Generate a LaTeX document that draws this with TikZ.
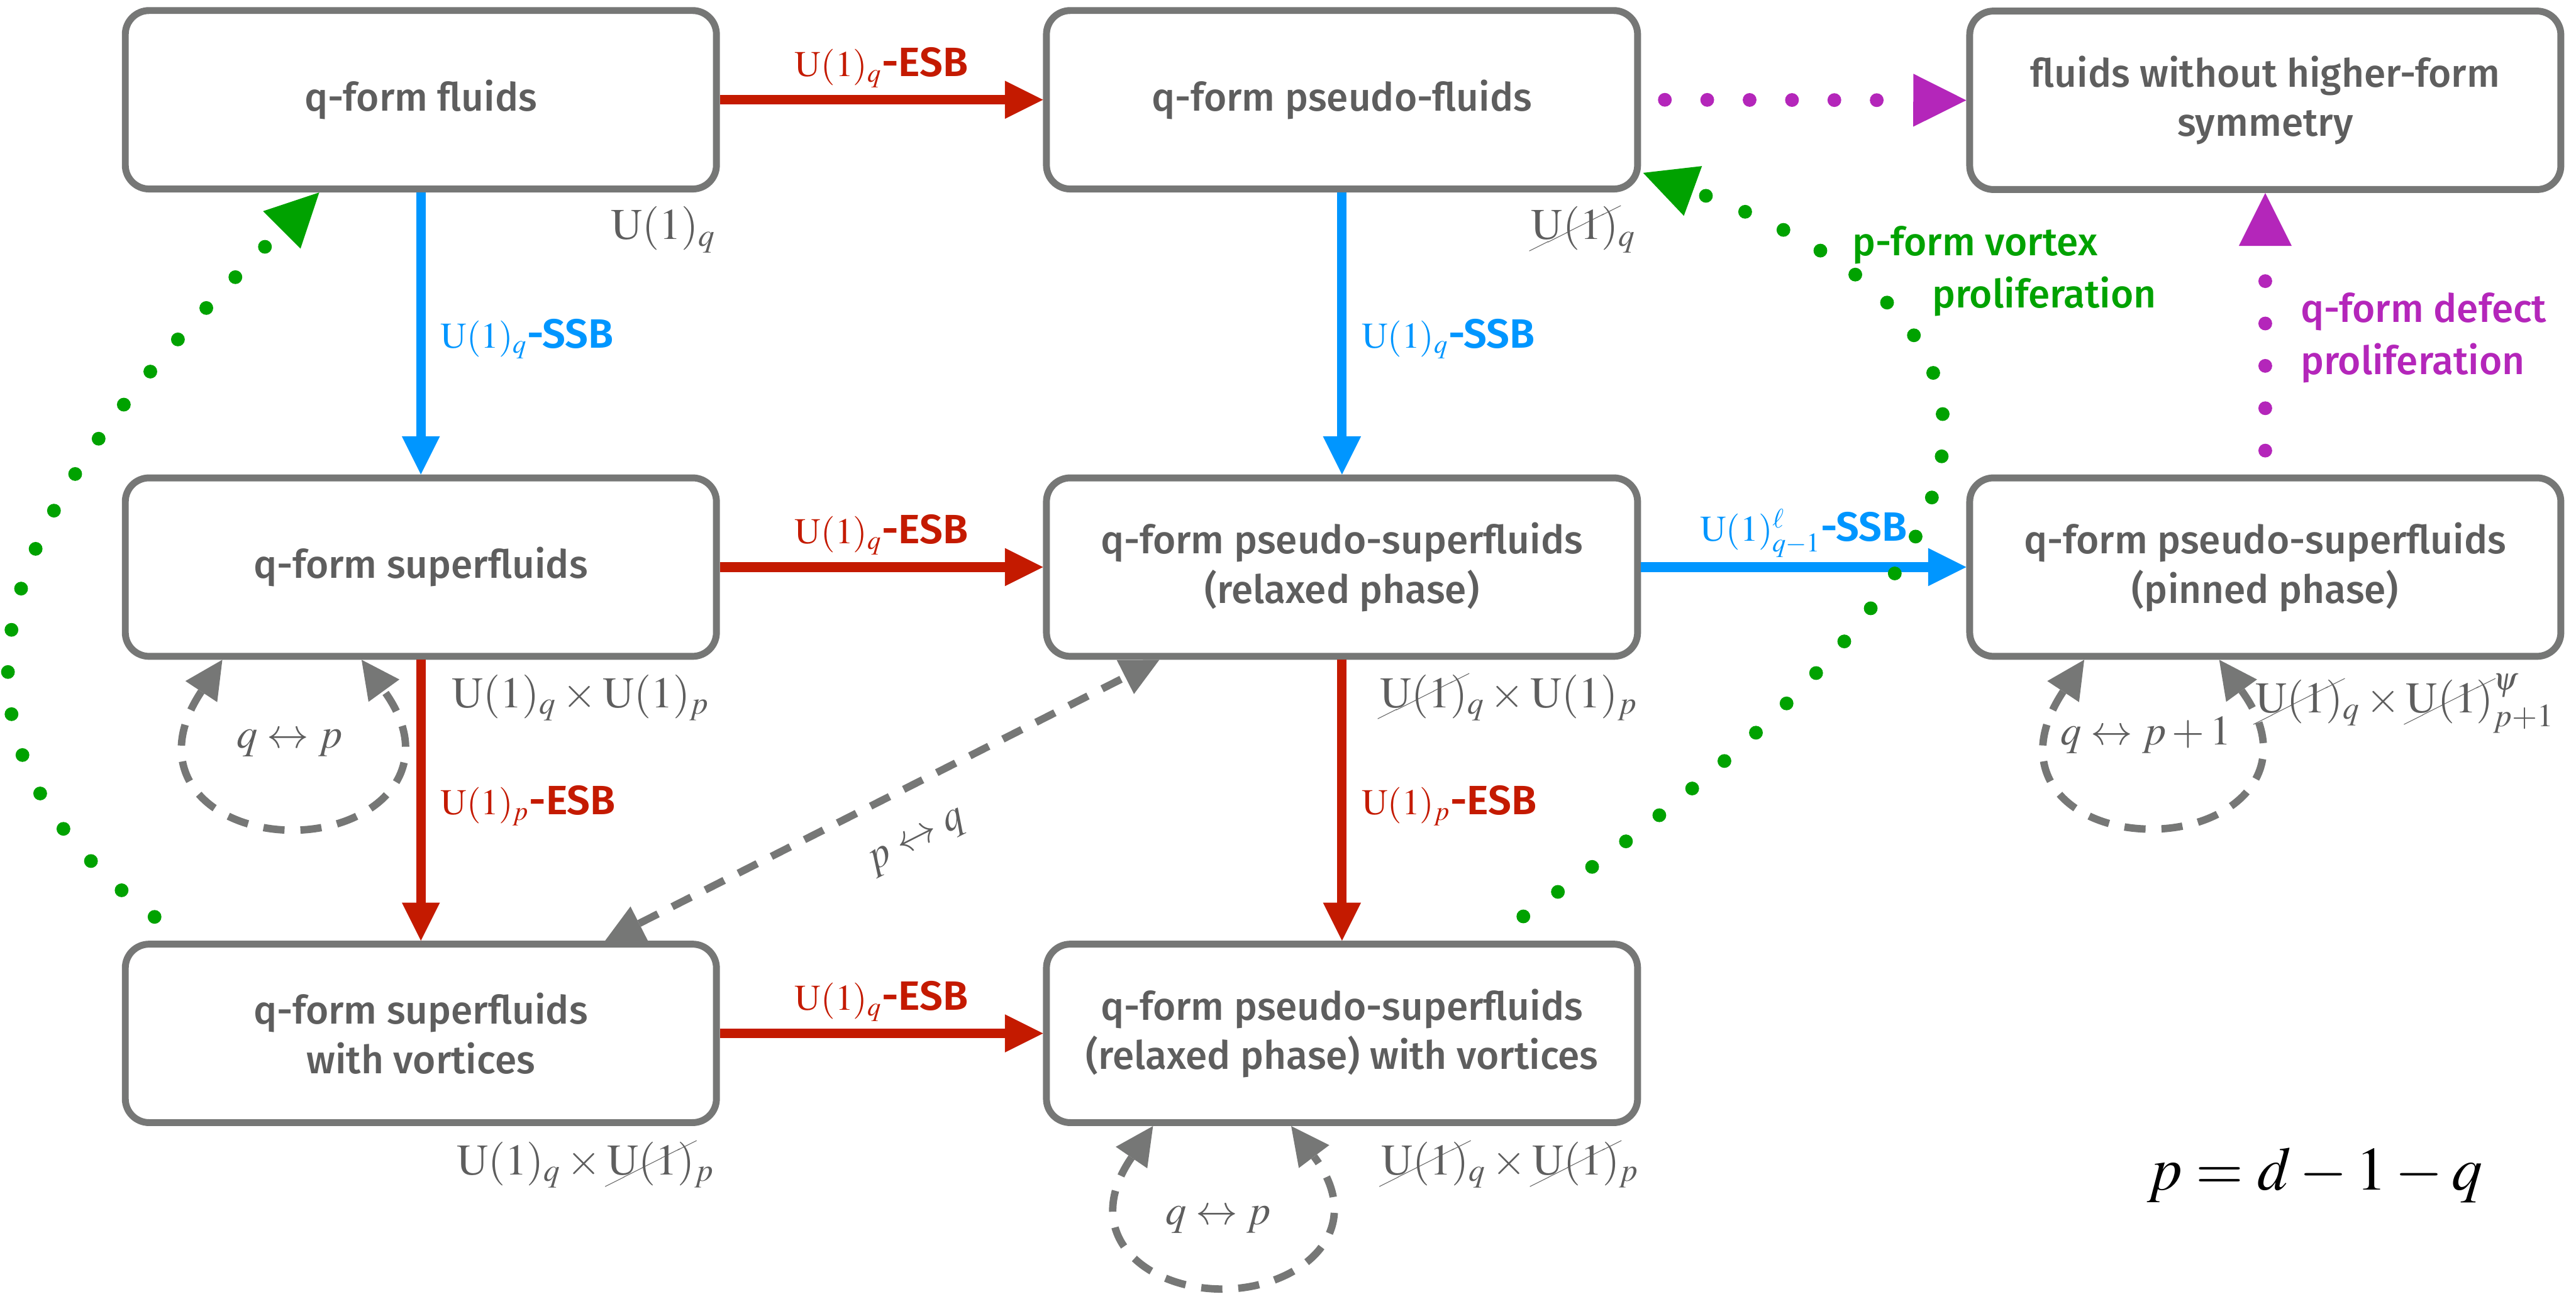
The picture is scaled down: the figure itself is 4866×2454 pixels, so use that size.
\documentclass[tikz,border=0pt]{standalone}
\usepackage{mathptmx}
\usepackage[no-math]{fontspec}
\setmainfont{Fira Sans}[UprightFont=* Medium,BoldFont=* SemiBold]
\usepackage{cancel}
\usetikzlibrary{arrows.meta,calc}
\definecolor{boxgrey}{RGB}{118,119,118}
\definecolor{txtgrey}{RGB}{94,94,94}
\definecolor{esbred}{RGB}{196,26,0}
\definecolor{ssbblue}{RGB}{0,150,255}
\definecolor{vortgreen}{RGB}{0,162,0}
\definecolor{defmag}{RGB}{180,38,186}
\newcommand\arrlbl[2]{{\fontsize{19.5}{24}\selectfont$#1$}{\fontsize{22}{26}\selectfont\bfseries #2}}
\newcommand\Uone{\mathrm{U}(1)}
\begin{document}
\begin{tikzpicture}[x=0.01cm,y=-0.01cm,
  box/.style={rectangle, rounded corners=0.45cm, draw=boxgrey, line width=0.13cm, fill=white,
    minimum width=11.16cm, minimum height=3.37cm, align=center, text=txtgrey,
    font=\fontsize{21}{26.5}\selectfont, inner sep=0pt},
  esb/.style={draw=esbred, line width=0.18cm, -{Triangle[length=0.72cm,width=0.72cm,line width=0pt]}},
  ssb/.style={draw=ssbblue, line width=0.18cm, -{Triangle[length=0.72cm,width=0.72cm,line width=0pt]}},
  vortex/.style={draw=vortgreen, fill=none, line width=0.26cm, line cap=round, dash pattern=on 0pt off 0.8cm,
    -{Triangle[length=1cm,width=1cm,line width=0pt]}},
  defect/.style={draw=defmag, fill=none, line width=0.26cm, line cap=round, dash pattern=on 0pt off 0.8cm,
    -{Triangle[length=1cm,width=1cm,line width=0pt]}},
  dual/.style={draw=boxgrey, line width=0.14cm, dash pattern=on 0.4cm off 0.3cm,
    {Triangle[length=0.72cm,width=0.72cm,line width=0pt]}-{Triangle[length=0.72cm,width=0.72cm,line width=0pt]}},
  lblabove/.style={anchor=base, yshift=0.44cm, inner sep=0pt},
  lblright/.style={anchor=base west, xshift=0.28cm, yshift=-0.27cm, inner sep=0pt},
  symlbl/.style={anchor=base east, inner sep=0pt, text=txtgrey, font=\fontsize{23.5}{28}\selectfont},
  looplbl/.style={anchor=base, inner sep=0pt, text=txtgrey, font=\fontsize{22.5}{27}\selectfont},
  sidetxt/.style={anchor=base west, inner sep=0pt, font=\fontsize{21}{26}\selectfont}
]
\path[use as bounding box, fill=white] (0,0) rectangle (4866,2454);

% boxes
\node[box] (A) at (795,188.5) {q-form fluids};
\node[box] (B) at (2535,188.5) {q-form pseudo-fluids};
\node[box] (C) at (4279,189.5) {fluids without higher-form\\symmetry};
\node[box] (D) at (795,1071.5) {q-form superfluids};
\node[box] (E) at (2535,1071.5) {q-form pseudo-superfluids\\(relaxed phase)};
\node[box] (F) at (4279,1071.5) {q-form pseudo-superfluids\\(pinned phase)};
\node[box] (G) at (795,1952.5) {q-form superfluids\\with vortices};
\node[box] (H) at (2535,1952.5) {q-form pseudo-superfluids\\(relaxed phase) with vortices};

% ESB arrows
\draw[esb] (A.east) -- node[lblabove, text=esbred]{\arrlbl{\Uone_q}{-ESB}} (B.west);
\draw[esb] (D.east) -- node[lblabove, text=esbred]{\arrlbl{\Uone_q}{-ESB}} (E.west);
\draw[esb] (G.east) -- node[lblabove, text=esbred]{\arrlbl{\Uone_q}{-ESB}} (H.west);
\draw[esb] (D.south) -- node[lblright, text=esbred]{\arrlbl{\Uone_p}{-ESB}} (G.north);
\draw[esb] (E.south) -- node[lblright, text=esbred]{\arrlbl{\Uone_p}{-ESB}} (H.north);

% SSB arrows
\draw[ssb] (A.south) -- node[lblright, text=ssbblue]{\arrlbl{\Uone_q}{-SSB}} (D.north);
\draw[ssb] (B.south) -- node[lblright, text=ssbblue]{\arrlbl{\Uone_q}{-SSB}} (E.north);
\draw[ssb] (E.east) -- node[anchor=base, yshift=0.49cm, inner sep=0pt, text=ssbblue]{\arrlbl{\Uone^{\ell}_{q-1}}{-SSB}} (F.west);

% defect proliferation (magenta)
\draw[defect, shorten <=0.45cm] (B.east) -- (C.west);
\draw[defect, shorten <=0.45cm] (F.north) -- (C.south);
\node[sidetxt, text=defmag] (qd1) at (4345,609) {q-form defect};
\node[sidetxt, text=defmag] (qd2) at (4345,708) {proliferation};

% vortex proliferation (green)
\draw[vortex, shorten <=0.75cm] ($(G.north)+(-443,0)$) .. controls +(-608,-456) and +(-495,495) .. ($(A.south)+(-192,0)$);
\draw[vortex, shorten <=0.8cm] ($(H.north)+(277,0)$) .. controls +(901,-631) and +(893,325) .. ($(B.south east)+(4,-37)$);
\node[sidetxt, text=vortgreen] (pv1) at (3498,483) {p-form vortex};
\node[sidetxt, text=vortgreen] (pv2) at (3649,582) {proliferation};

% duality
\draw[dual] ($(G.north)+(348,0)$) -- node[sloped, pos=0.52, below=0.7cm, inner sep=0pt, text=txtgrey, font=\fontsize{22.5}{27}\selectfont]{$p\leftrightarrow q$} ($(E.south)+(-345,0)$);
\draw[dual] ($(D.south)+(-375,0)$) .. controls +(-143,216) and +(-150,0) .. ($(D.south)+(-242,322)$)
  .. controls +(150,0) and +(153,211) .. ($(D.south)+(-112,0)$);
\draw[dual] ($(F.south)+(-342,0)$) .. controls +(-143,216) and +(-150,0) .. ($(F.south)+(-215,320)$)
  .. controls +(150,0) and +(153,211) .. ($(F.south)+(-87,0)$);
\draw[dual] ($(H.south)+(-357,0)$) .. controls +(-140,205) and +(-145,0) .. ($(H.south)+(-226,308)$)
  .. controls +(145,0) and +(150,200) .. ($(H.south)+(-96,0)$);
\node[looplbl] (lD) at ($(D.south)+(-248,166)$) {$q\leftrightarrow p$};
\node[looplbl] (lF) at ($(F.south)+(-225,160)$) {$q\leftrightarrow p+1$};
\node[looplbl] (lH) at ($(H.south)+(-234,186)$) {$q\leftrightarrow p$};

% symmetry labels
\node[symlbl] (sA) at ($(A.south east)+(-8,89)$) {$\Uone_q$};
\node[symlbl] (sB) at ($(B.south east)+(-9,89)$) {$\cancel{\Uone}_q$};
\node[symlbl] (sD) at ($(D.south east)+(-19,90)$) {$\Uone_q\times\Uone_p$};
\node[symlbl] (sE) at ($(E.south east)+(-6,90)$) {$\cancel{\Uone}_q\times\Uone_p$};
\node[symlbl] (sF) at ($(F.south east)+(-18,100)$) {$\cancel{\Uone}_q\times\cancel{\Uone}^{\psi}_{p+1}$};
\node[symlbl] (sG) at ($(G.south east)+(-10,92)$) {$\Uone_q\times\cancel{\Uone}_p$};
\node[symlbl] (sH) at ($(H.south east)+(-3,92)$) {$\cancel{\Uone}_q\times\cancel{\Uone}_p$};

% relation
\node[anchor=base west, inner sep=0pt, font=\fontsize{33}{40}\selectfont] (eq) at (4055,2248) {$p=d-1-q$};
\end{tikzpicture}
\end{document}
